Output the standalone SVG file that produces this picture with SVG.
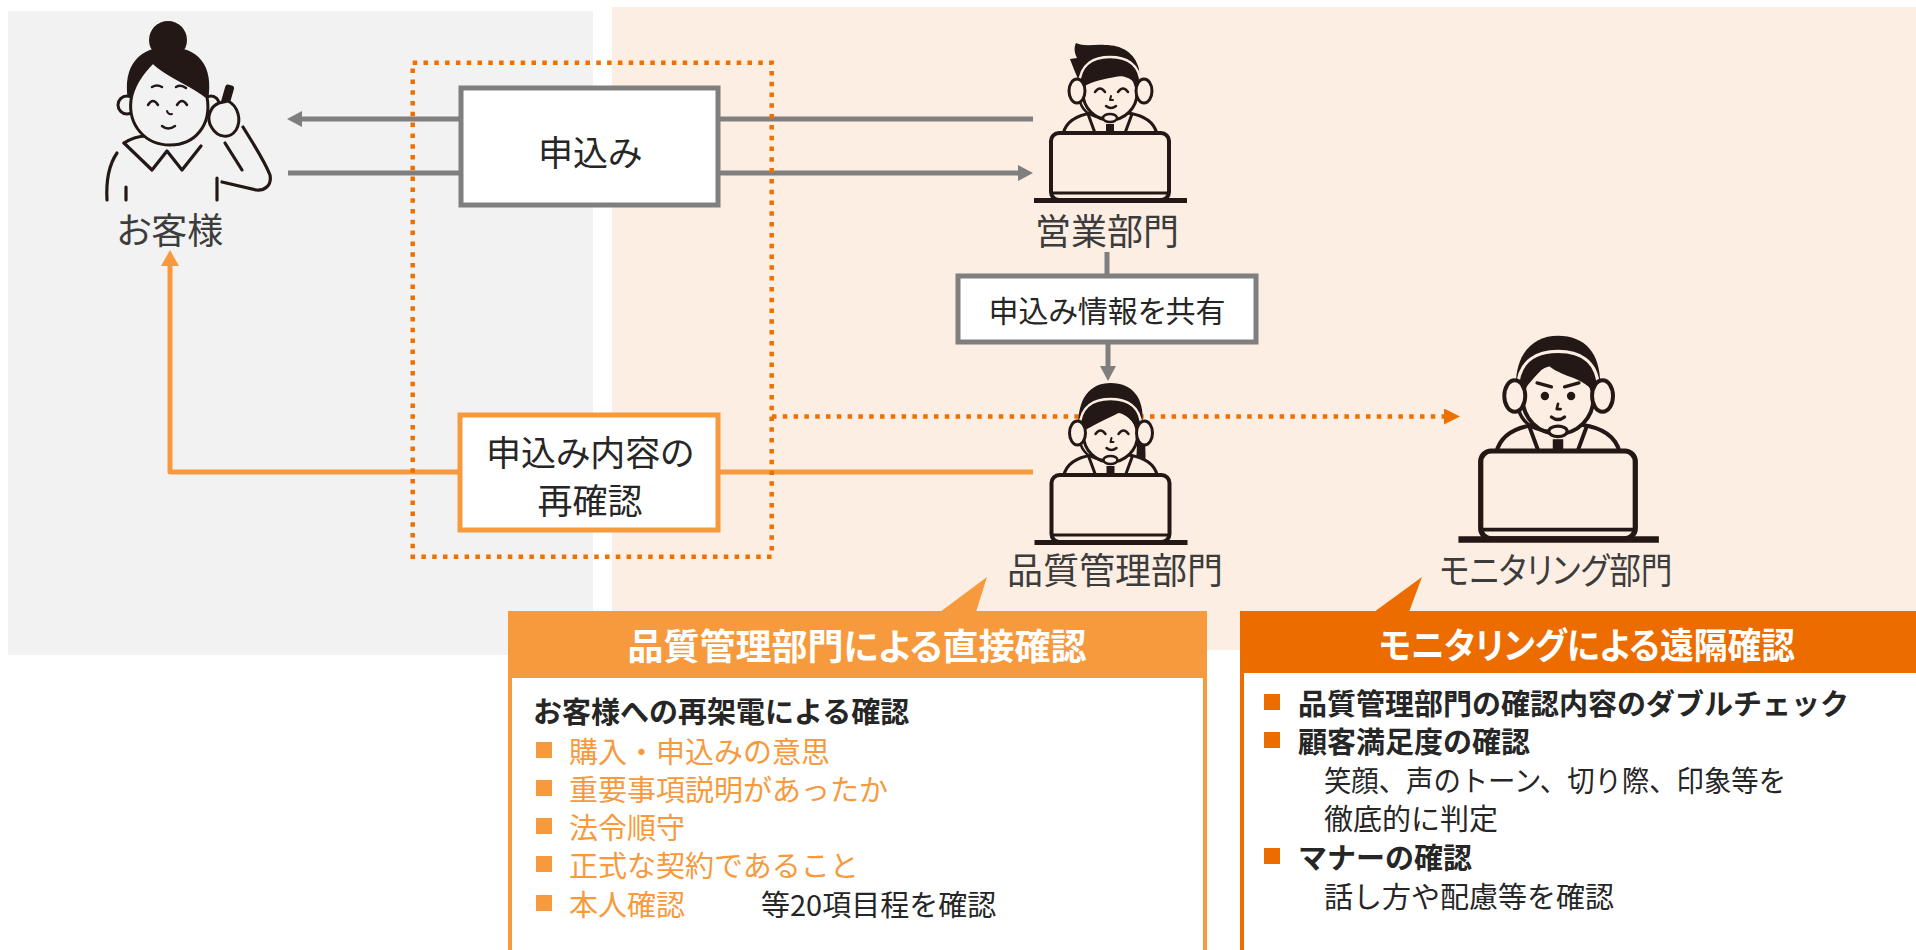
<svg xmlns="http://www.w3.org/2000/svg" xmlns:xlink="http://www.w3.org/1999/xlink" width="1916" height="950" viewBox="0 0 1916 950">
  <style>
    text { font-family: "Noto Sans CJK JP", "Noto Sans", sans-serif; font-feature-settings: "palt"; }
    .label { font-size: 36px; fill: #3c3c3c; text-anchor: middle; dominant-baseline: central; }
    .boxtxt { font-size: 35px; fill: #262626; text-anchor: middle; dominant-baseline: central; }
    .head { font-size: 36px; font-weight: 700; fill: #ffffff; text-anchor: middle; dominant-baseline: central; }
    .item { font-size: 29px; dominant-baseline: central; font-feature-settings: normal; }
    .bold { font-weight: 700; fill: #262626; }
    .dark { fill: #262626; }
    .lo { fill: #F79A3D; }
    .ink { stroke: #231815; stroke-linecap: round; stroke-linejoin: round; fill: none; }
    .skin { fill: #FDEEE3; }
    .gline { stroke: #7F7F7F; stroke-width: 5; fill: none; }
    .oline { stroke: #F79A3D; stroke-width: 5; fill: none; stroke-linejoin: round; }
    .dots { stroke: #EE7000; stroke-width: 4.5; fill: none; stroke-dasharray: 4.5 6.3; }
  </style>
  <defs>
    <marker id="ah-gray" markerUnits="userSpaceOnUse" markerWidth="16" markerHeight="16" viewBox="0 0 16 16" refX="0" refY="8" orient="auto">
      <path d="M0,0 L15,8 L0,16 Z" fill="#7F7F7F"/>
    </marker>
    <marker id="ah-lo" markerUnits="userSpaceOnUse" markerWidth="18" markerHeight="18" viewBox="0 0 18 18" refX="0" refY="9" orient="auto">
      <path d="M0,0 L16,9 L0,18 Z" fill="#F79A3D"/>
    </marker>
    <marker id="ah-do" markerUnits="userSpaceOnUse" markerWidth="16" markerHeight="16" viewBox="0 0 16 16" refX="0" refY="8" orient="auto">
      <path d="M0,0 L16,8 L0,16 Z" fill="#EE7000"/>
    </marker>
    <!-- desk, laptop and shoulders shared by the three operators (origin = laptop top centre) -->
    <g id="agent-desk">
      <path d="M-47,1 C-44,-12 -32,-18 -18,-20 L18,-20 C32,-18 44,-12 47,1 Z" class="skin" stroke="#231815" stroke-width="3.2"/>
      <path d="M-22,-19 L-15,0 M22,-19 L15,0" class="ink" stroke-width="3"/>
      <rect x="-4" y="-9" width="8" height="9" fill="#231815"/>
      <rect x="-59" y="0" width="118" height="67" rx="8" class="skin" stroke="#231815" stroke-width="4"/>
      <path d="M-59,60 H59" stroke="#231815" stroke-width="3"/>
      <path d="M-76,67.5 H77" stroke="#231815" stroke-width="5"/>
    </g>
    <g id="agent-face">
      <ellipse cx="0" cy="-40" rx="27" ry="27" class="skin" stroke="#231815" stroke-width="3"/>
    </g>
    <g id="agent-headset">
      <path d="M-31,-48 C-30,-70 -15,-76 0,-76 C15,-76 30,-70 31,-48" fill="none" stroke="#FDEEE3" stroke-width="2.5"/>
      <ellipse cx="-33" cy="-42" rx="8" ry="12" class="skin" stroke="#231815" stroke-width="3"/>
      <ellipse cx="34" cy="-42" rx="8" ry="12" class="skin" stroke="#231815" stroke-width="3"/>
      <path d="M-30,-31 C-26,-19 -15,-15 -5,-15" class="ink" stroke-width="2.5"/>
      <ellipse cx="0" cy="-15" rx="7" ry="4" class="skin" stroke="#231815" stroke-width="2.5"/>
    </g>
    <g id="smile-eyes">
      <path d="M-15,-41 Q-10,-48 -5,-41 M8,-41 Q13,-48 18,-41" class="ink" stroke-width="2.5"/>
      <path d="M1,-37 L0,-33 L3,-33" class="ink" stroke-width="2"/>
      <path d="M-4,-27 Q1,-23 6,-27" class="ink" stroke-width="2.5"/>
    </g>
  </defs>

  <!-- background zones -->
  <rect x="8" y="11" width="585" height="644" fill="#F2F2F2"/>
  <rect x="612" y="7" width="1304" height="643" fill="#FDEEE3"/>

  <!-- connectors -->
  <g id="connectors">
    <path d="M1033,119 H302" class="gline" marker-end="url(#ah-gray)"/>
    <path d="M288,173 H1018" class="gline" marker-end="url(#ah-gray)"/>
    <path d="M1107,252 V275" class="gline"/>
    <path d="M1108,342 V366" class="gline" marker-end="url(#ah-gray)"/>
    <path d="M1033,472 H170 V266" class="oline" marker-end="url(#ah-lo)"/>
    <rect x="412.7" y="62.7" width="359" height="494" class="dots"/>
    <path d="M772,416.5 H1444" class="dots" marker-end="url(#ah-do)"/>
  </g>

  <!-- application box -->
  <g id="node-apply">
    <rect x="461" y="88" width="257" height="117" fill="#ffffff" stroke="#7F7F7F" stroke-width="5"/>
    <text x="590" y="150" class="boxtxt">申込み</text>
  </g>

  <!-- re-confirmation box -->
  <g id="node-reconfirm">
    <rect x="460" y="415" width="258" height="115" fill="#ffffff" stroke="#F79A3D" stroke-width="5"/>
    <text x="590" y="450" class="boxtxt">申込み内容の</text>
    <text x="590" y="498" class="boxtxt">再確認</text>
  </g>

  <!-- shared information box -->
  <g id="node-share">
    <rect x="958" y="276" width="298" height="66" fill="#ffffff" stroke="#7F7F7F" stroke-width="5"/>
    <text x="1107" y="309" class="boxtxt" style="font-size:30px">申込み情報を共有</text>
  </g>

  <!-- customer -->
  <g id="node-customer">
    <path d="M128,100 C122,65 140,47 168,47 C198,47 214,65 208,100 Z" fill="#231815"/>
    <circle cx="168" cy="40" r="19" fill="#231815"/>
    <path d="M117,153 C108,166 106,182 107,200 M126,187 V200 M217,178 V200" class="ink" stroke-width="3.2"/>
    <path d="M124,143 L152,170 L167,151 L182,170 L201,146" class="ink" stroke-width="3.2"/>
    <path d="M124,143 C132,138 140,136 146,136" class="ink" stroke-width="3.2"/>
    <path d="M243,127 C254,145 264,160 270,175 C272,186 264,191 256,190 L222,182" class="ink" stroke-width="3.2"/>
    <path d="M225,143 L242,170" class="ink" stroke-width="3.2"/>
    <circle cx="127" cy="105" r="9" fill="#F2F2F2" stroke="#231815" stroke-width="3"/>
    <circle cx="211" cy="104" r="8" fill="#F2F2F2" stroke="#231815" stroke-width="3"/>
    <path d="M131,100 C133,85 145,70 153,62 C166,76 190,83 207,97 C212,125 195,145 170,145 C145,145 128,125 131,100 Z" fill="#F2F2F2" stroke="#231815" stroke-width="3"/>
    <path d="M152,87 Q157,84 162,87 M176,87 Q181,84 186,88" class="ink" stroke-width="2.5"/>
    <path d="M148,105 Q153,97 158,105 M177,105 Q182,97 187,105" class="ink" stroke-width="2.5"/>
    <path d="M167,111 Q168,115 172,114" class="ink" stroke-width="2"/>
    <path d="M162,126 Q168,131 175,126" class="ink" stroke-width="2.5"/>
    <rect x="219" y="84" width="9" height="50" rx="3" fill="#231815" transform="rotate(16 223 109)"/>
    <path d="M212,128 C205,118 211,106 219,103 L228,101 C238,106 242,120 236,130 C230,139 218,138 212,128 Z" fill="#F2F2F2" stroke="#231815" stroke-width="3"/>
    <text x="170" y="228" class="label">お客様</text>
  </g>

  <!-- sales department -->
  <g id="node-sales">
    <g transform="translate(1110,133)">
      <path d="M-30,-50 C-34,-58 -37,-66 -40,-74 L-33,-75 C-36,-81 -36,-86 -34,-90 C-26,-86 -15,-89 -5,-88 C12,-88 25,-80 29,-64 C30,-58 29,-53 28,-50 Z" fill="#231815"/>
      <use href="#agent-desk"/>
      <use href="#agent-face"/>
      <path d="M-27,-46 C-27,-62 -15,-70 0,-70 C15,-70 27,-62 27,-48 C20,-56 12,-58 5,-56 C-5,-54 -18,-52 -27,-46 Z" fill="#231815"/>
      <use href="#agent-headset"/>
      <use href="#smile-eyes"/>
    </g>
    <text x="1107" y="229" class="label">営業部門</text>
  </g>

  <!-- quality control department -->
  <g id="node-qc">
    <g transform="translate(1110.5,475)">
      <path d="M-32,-45 C-34,-77 -20,-92 0,-92 C22,-92 34,-77 32,-52 C35,-36 36,-16 34,-2 L24,-6 C27,-20 27,-35 25,-45 Z" fill="#231815"/>
      <use href="#agent-desk"/>
      <use href="#agent-face"/>
      <path d="M-27,-44 C-26,-64 -12,-72 3,-72 C20,-71 29,-60 28,-44 C22,-55 15,-61 8,-62 C-2,-57 -15,-51 -27,-44 Z" fill="#231815"/>
      <use href="#agent-headset"/>
      <use href="#smile-eyes"/>
    </g>
    <text x="1115" y="568" class="label">品質管理部門</text>
  </g>

  <!-- monitoring department -->
  <g id="node-monitor">
    <g transform="translate(1558,451) scale(1.31)">
      <path d="M-32,-45 C-34,-73 -20,-88 0,-88 C22,-88 34,-73 32,-45 Z" fill="#231815"/>
      <use href="#agent-desk"/>
      <use href="#agent-face"/>
      <path d="M-27,-45 C-25,-61 -17,-68 -7,-68 C9,-68 25,-62 27,-45 C22,-52 14,-55 8,-57 C0,-60 -5,-63 -8,-66 C-15,-60 -22,-52 -27,-45 Z" fill="#231815"/>
      <use href="#agent-headset"/>
      <path d="M-16,-52 L-5,-49 M5,-49 L16,-52" class="ink" stroke-width="2.5"/>
      <circle cx="-10" cy="-42" r="3.2" fill="#231815"/>
      <circle cx="10" cy="-42" r="3.2" fill="#231815"/>
      <path d="M0,-36 L-1,-32 L2,-32" class="ink" stroke-width="2"/>
      <path d="M-5,-26 Q0,-22 5,-26" class="ink" stroke-width="2.5"/>
    </g>
    <text x="1556" y="568" class="label" textLength="233" lengthAdjust="spacingAndGlyphs">モニタリング部門</text>
  </g>

  <!-- direct check card -->
  <g id="card-direct">
    <path d="M940,612 L976,612 L987,577 Z" fill="#F79A3D"/>
    <rect x="510" y="613" width="695" height="400" fill="#ffffff" stroke="#F79A3D" stroke-width="4"/>
    <rect x="508" y="611" width="699" height="67" fill="#F79A3D"/>
    <text x="857" y="644" class="head">品質管理部門による直接確認</text>
    <text x="533" y="710" class="item bold">お客様への再架電による確認</text>
    <rect x="536" y="742" width="16" height="16" fill="#F79A3D"/>
    <text x="569" y="750" class="item lo">購入・申込みの意思</text>
    <rect x="536" y="780" width="16" height="16" fill="#F79A3D"/>
    <text x="569" y="788" class="item lo">重要事項説明があったか</text>
    <rect x="536" y="818" width="16" height="16" fill="#F79A3D"/>
    <text x="569" y="826" class="item lo">法令順守</text>
    <rect x="536" y="856" width="16" height="16" fill="#F79A3D"/>
    <text x="569" y="864" class="item lo">正式な契約であること</text>
    <rect x="536" y="895" width="16" height="16" fill="#F79A3D"/>
    <text x="569" y="903" class="item lo">本人確認</text>
    <text x="761" y="903" class="item dark">等20項目程を確認</text>
  </g>

  <!-- remote check card -->
  <g id="card-remote">
    <path d="M1374,612 L1409,612 L1422,577 Z" fill="#EC6C00"/>
    <rect x="1242" y="613" width="720" height="400" fill="#ffffff" stroke="#EC6C00" stroke-width="4"/>
    <rect x="1240" y="611" width="720" height="62" fill="#EC6C00"/>
    <text x="1587" y="643" class="head" textLength="416" lengthAdjust="spacingAndGlyphs">モニタリングによる遠隔確認</text>
    <rect x="1264" y="694" width="16" height="16" fill="#EC6C00"/>
    <text x="1298" y="702" class="item bold">品質管理部門の確認内容のダブルチェック</text>
    <rect x="1264" y="732" width="16" height="16" fill="#EC6C00"/>
    <text x="1298" y="740" class="item bold">顧客満足度の確認</text>
    <text x="1324" y="779" class="item dark" textLength="462" lengthAdjust="spacingAndGlyphs">笑顔、声のトーン、切り際、印象等を</text>
    <text x="1324" y="817" class="item dark">徹底的に判定</text>
    <rect x="1264" y="848" width="16" height="16" fill="#EC6C00"/>
    <text x="1298" y="856" class="item bold">マナーの確認</text>
    <text x="1324" y="895" class="item dark">話し方や配慮等を確認</text>
  </g>
</svg>
